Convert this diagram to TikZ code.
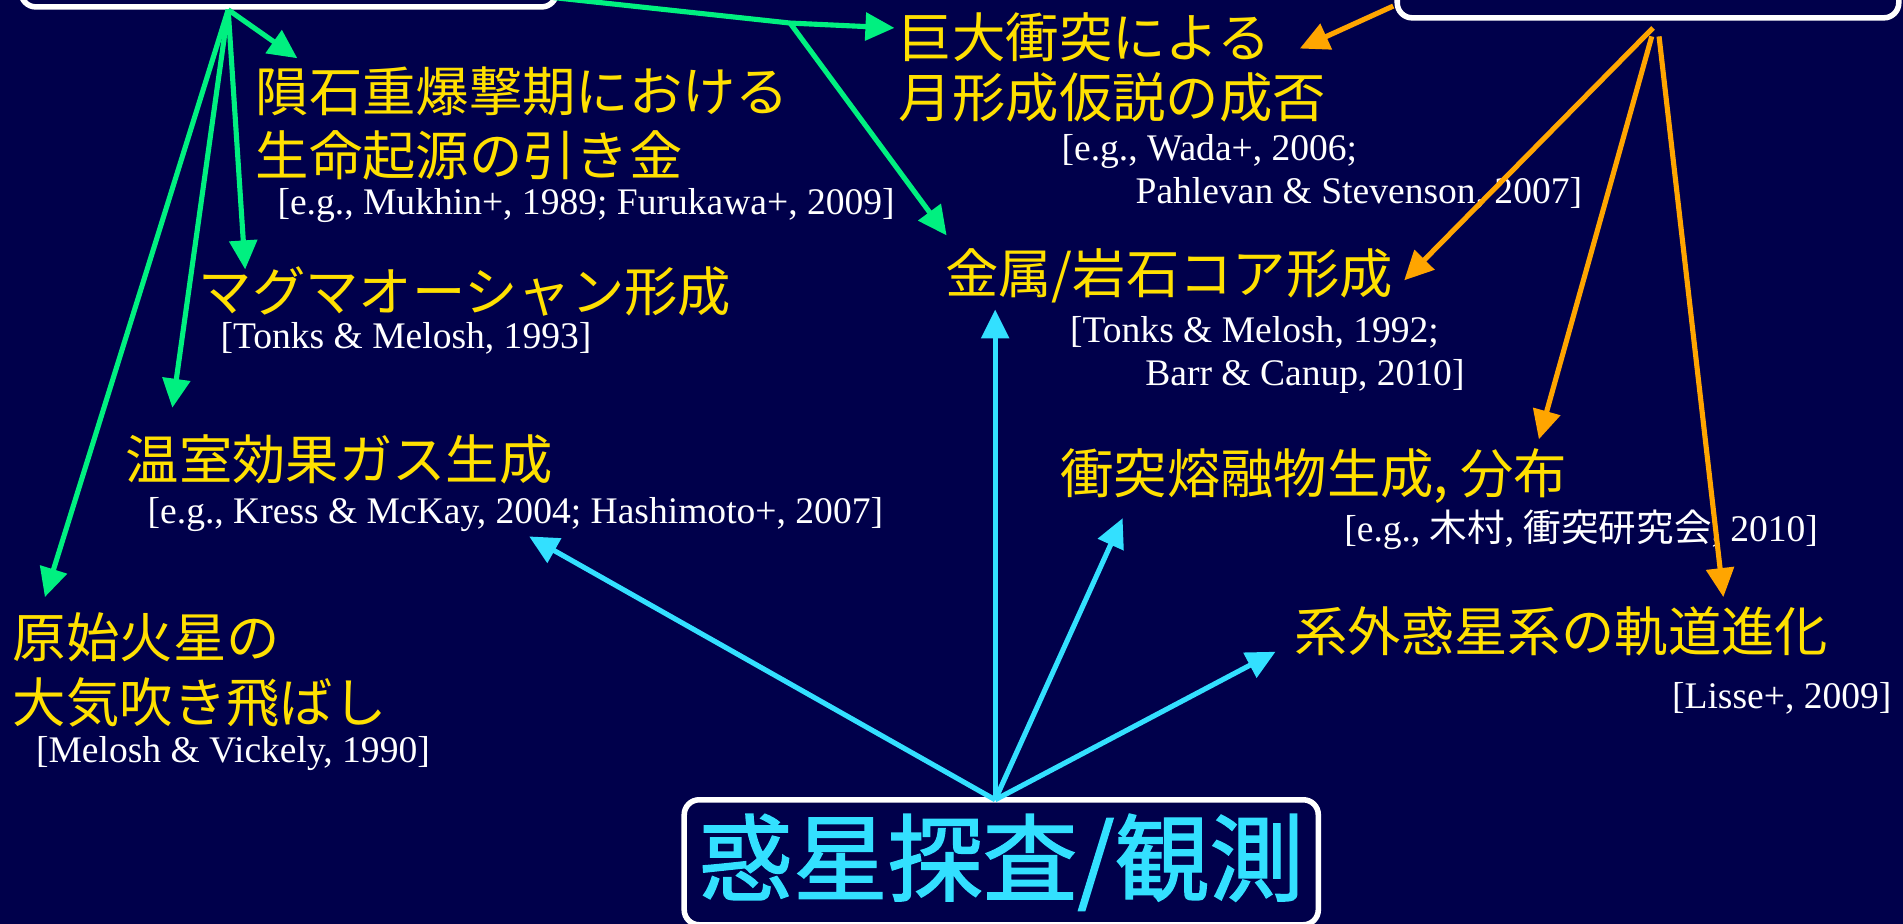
\documentclass[tikz,border=0pt]{standalone}
\usepackage{fontspec}
\setmainfont{Liberation Serif}
\newfontfamily\jpfont{Noto Sans CJK JP}
\newfontfamily\jpheavy{Noto Sans CJK JP}[FakeBold=1.5]
\usepackage{tikz}
\usetikzlibrary{arrows.meta}
\definecolor{navy}{HTML}{00004B}
\definecolor{impactgreen}{HTML}{00F080}
\definecolor{probecyan}{HTML}{33E0FF}
\definecolor{theoryorange}{HTML}{FFA500}
\definecolor{topicyellow}{HTML}{FFE000}
\tikzset{
	topic/.style={text=topicyellow, font=\jpfont\fontsize{12.5}{15}\selectfont, inner sep=0pt, anchor=base west},
	cite/.style={text=white, font=\fontsize{8.8}{10}\selectfont, inner sep=0pt, anchor=base west},
	frame/.style={draw=white, line width=1.3pt, rounded corners=3.5pt},
	link/.style={line width=1.2pt, -{Triangle[length=6.8pt, width=6.4pt]}},
}

\begin{document}
\begin{tikzpicture}[x=0.01cm, y=-0.01cm]

	\fill[color=navy] (0,0) rectangle (1568,761);
	\useasboundingbox (0,0) rectangle (1568,761);
	\clip (0,0) rectangle (1568,761);

	% boxes
	\node[frame, anchor=south west, minimum width=4.41cm, minimum height=1cm]
		(srcL) at (15,8) {};
	\node[frame, anchor=south west, minimum width=4.13cm, minimum height=1cm]
		(srcR) at (1149,17) {};
	\node[frame, minimum width=5.16cm, minimum height=0.95cm,
		text=probecyan, font=\jpheavy\fontsize{22.2}{26}\selectfont]
		(probe) at (825,710.5) {惑星探査/観測};

	% topics
	\node[topic] (moonA) at (740,47) {巨大衝突による};
	\node[topic] (moonB) at (740,97) {月形成仮説の成否};
	\node[topic] (raidA) at (210,92) {隕石重爆撃期における};
	\node[topic] (raidB) at (210,145) {生命起源の引き金};
	\node[topic] (magma) at (163,257) {マグマオーシャン形成};
	\node[topic] (ghg) at (103,395) {温室効果ガス生成};
	\node[topic] (marsA) at (10,542) {原始火星の};
	\node[topic] (marsB) at (10,595) {大気吹き飛ばし};
	\node[topic] (core) at (778,242) {金属/岩石コア形成};
	\node[topic] (melt) at (873,407) {衝突熔融物生成, 分布};
	\node[topic] (exo) at (1066,537) {系外惑星系の軌道進化};

	% references
	\node[cite] (citeMoonA) at (874,132) {[e.g., Wada+, 2006;};
	\node[cite] (citeMoonB) at (935,168) {Pahlevan \& Stevenson, 2007]};
	\node[cite] (citeRaid) at (228,177) {[e.g., Mukhin+, 1989; Furukawa+, 2009]};
	\node[cite] (citeMagma) at (181,287) {[Tonks \& Melosh, 1993]};
	\node[cite] (citeGhg) at (121,431) {[e.g., Kress \& McKay, 2004; Hashimoto+, 2007]};
	\node[cite] (citeMars) at (29,628) {[Melosh \& Vickely, 1990]};
	\node[cite] (citeCoreA) at (881,282) {[Tonks \& Melosh, 1992;};
	\node[cite] (citeCoreB) at (943,318) {Barr \& Canup, 2010]};
	\node[cite] (citeMelt) at (1107,446) {[e.g., {\jpfont 木村}, {\jpfont 衝突研究会}, 2010]};
	\node[cite] (citeExo) at (1377,584) {[Lisse+, 2009]};

	% green arrows
	\coordinate (gsrc) at (188,8);
	\coordinate (gEast) at (456,-2);
	\coordinate (gFork) at (651,19);
	\coordinate (tRaid) at (245,48);
	\coordinate (tMagma) at (202,222);
	\coordinate (tGhg) at (142,336);
	\coordinate (tMars) at (37,492);
	\coordinate (tMoon) at (737,23);
	\coordinate (tCore) at (780,194);
	\foreach \t in {tRaid,tMagma,tGhg,tMars}{
		\draw[link, color=impactgreen] (gsrc) -- (\t);
	}
	\draw[link, color=impactgreen] (gEast) -- (gFork) -- (tMoon);
	\draw[link, color=impactgreen] (gFork) -- (tCore);

	% orange arrows
	\coordinate (oWest) at (1148,5);
	\coordinate (osrcA) at (1362,23);
	\coordinate (osrcB) at (1361,30);
	\coordinate (osrcC) at (1367,30);
	\coordinate (tMoonO) at (1071,40);
	\coordinate (tCoreO) at (1157,231);
	\coordinate (tMelt) at (1268,362);
	\coordinate (tExo) at (1420,492);
	\draw[link, color=theoryorange] (oWest) -- (tMoonO);
	\draw[link, color=theoryorange] (osrcA) -- (tCoreO);
	\draw[link, color=theoryorange] (osrcB) -- (tMelt);
	\draw[link, color=theoryorange] (osrcC) -- (tExo);

	% cyan arrows
	\coordinate (csrc) at (820,659);
	\coordinate (tCoreC) at (820,255);
	\coordinate (tGhgC) at (436,442);
	\coordinate (tMeltC) at (925,427);
	\coordinate (tExoC) at (1051,537);
	\foreach \t in {tCoreC,tGhgC,tMeltC,tExoC}{
		\draw[link, color=probecyan] (csrc) -- (\t);
	}

\end{tikzpicture}
\end{document}
